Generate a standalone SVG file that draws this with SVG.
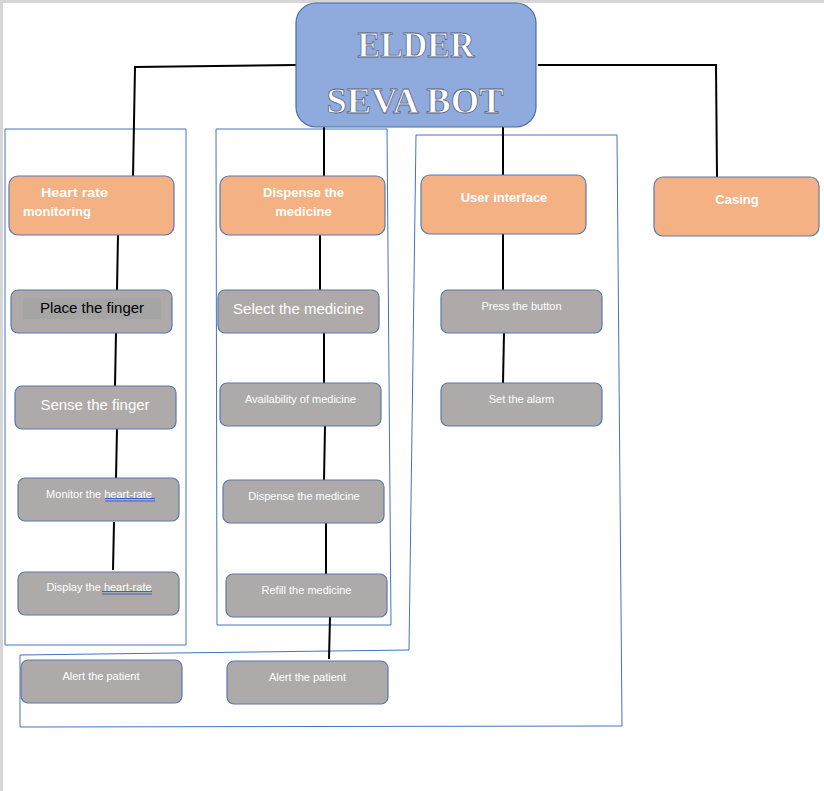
<svg xmlns="http://www.w3.org/2000/svg" width="824" height="791" viewBox="0 0 824 791">
<style>
.frame{fill:none;stroke:#4472c4;stroke-width:1}
.conn{fill:none;stroke:#000;stroke-width:2}
.main{fill:#8faadc;stroke:#4a6aa8;stroke-width:1.2}
.org{fill:#f4b183;stroke:#5b77ad;stroke-width:1.2}
.gry{fill:#aeaaaa;stroke:#5b77ad;stroke-width:1.2}
.ot{font-family:"Liberation Sans",Arial,sans-serif;font-weight:bold;font-size:13px;fill:#fff}
.gt{font-family:"Liberation Sans",Arial,sans-serif;font-size:11px;fill:#fff;text-anchor:middle}
.gl{font-family:"Liberation Sans",Arial,sans-serif;font-size:15px;fill:#fff;text-anchor:middle}
.tt{font-family:"Liberation Serif","Times New Roman",serif;font-weight:bold;font-size:36px;fill:#fff;stroke:#5a6480;stroke-width:0.8;text-anchor:middle}
.ul{stroke:#3b5fd0;stroke-width:1}
</style>
<rect width="824" height="791" fill="#fff"/>
<path d="M1.5,791 V1.5 H824" fill="none" stroke="#d6d6d6" stroke-width="3"/>

<g id="frames">
<path class="frame" d="M5,129 H186 V645 H5 Z"/>
<path class="frame" d="M216,129 H387 L391,625 H217 Z"/>
<path class="frame" d="M416,135 H617 L622,726 L20,727 V655 L409,650 Z"/>
</g>

<g id="connectors">
<polyline class="conn" points="296,65 135,67 133,177"/>
<polyline class="conn" points="538,65 716,65 717,177"/>
<line class="conn" x1="324" y1="127" x2="324" y2="176"/>
<line class="conn" x1="503" y1="127" x2="503" y2="175"/>
<line class="conn" x1="118" y1="235" x2="117" y2="290"/>
<line class="conn" x1="116" y1="333" x2="115" y2="386"/>
<line class="conn" x1="117" y1="429" x2="116" y2="478"/>
<line class="conn" x1="114" y1="522" x2="113" y2="570"/>
<line class="conn" x1="320" y1="235" x2="320" y2="290"/>
<line class="conn" x1="324" y1="333" x2="324" y2="383"/>
<line class="conn" x1="325" y1="426" x2="324" y2="480"/>
<line class="conn" x1="326" y1="523" x2="326" y2="574"/>
<line class="conn" x1="330" y1="617" x2="329" y2="659"/>
<line class="conn" x1="503" y1="234" x2="503" y2="290"/>
<line class="conn" x1="504" y1="333" x2="503" y2="383"/>
</g>

<g id="main">
<rect class="main" x="296" y="3" width="240" height="124" rx="20"/>
<text class="tt" x="416" y="57" textLength="117" lengthAdjust="spacingAndGlyphs">ELDER</text>
<text class="tt" x="415" y="113" textLength="177" lengthAdjust="spacingAndGlyphs">SEVA BOT</text>
</g>

<g id="heart-rate-monitoring">
<rect class="org" x="9" y="176" width="165" height="59" rx="9"/>
<text class="ot" x="41" y="197" textLength="67" lengthAdjust="spacingAndGlyphs">Heart rate</text>
<text class="ot" x="23" y="216">monitoring</text>
</g>
<g id="dispense-the-medicine">
<rect class="org" x="220" y="176" width="165" height="59" rx="9"/>
<text class="ot" x="303.5" y="197" text-anchor="middle">Dispense the</text>
<text class="ot" x="303.5" y="216" text-anchor="middle">medicine</text>
</g>
<g id="user-interface">
<rect class="org" x="421" y="175" width="165" height="59" rx="9"/>
<text class="ot" x="504" y="202" text-anchor="middle">User interface</text>
</g>
<g id="casing">
<rect class="org" x="654" y="177" width="165" height="59" rx="9"/>
<text class="ot" x="737" y="204" text-anchor="middle">Casing</text>
</g>

<g id="place-the-finger">
<rect class="gry" x="11" y="290" width="161" height="43" rx="7"/>
<rect x="23" y="298" width="138" height="21" fill="#a5a5a5"/>
<text class="gl" x="92" y="313" fill="#000" style="fill:#000">Place the finger</text>
</g>
<g id="sense-the-finger">
<rect class="gry" x="15" y="386" width="161" height="43" rx="7"/>
<text class="gl" x="95" y="410">Sense the finger</text>
</g>
<g id="monitor-the-heart-rate">
<rect class="gry" x="18" y="478" width="161" height="43" rx="7"/>
<text class="gt" x="99" y="498">Monitor the heart-rate</text>
<line class="ul" x1="105" y1="498.5" x2="155" y2="498.5"/>
<line class="ul" x1="105" y1="501" x2="155" y2="501"/>
</g>
<g id="display-the-heart-rate">
<rect class="gry" x="18" y="572" width="161" height="43" rx="7"/>
<text class="gt" x="99" y="591">Display the heart-rate</text>
<line class="ul" x1="102" y1="591.5" x2="152" y2="591.5"/>
<line class="ul" x1="102" y1="594" x2="152" y2="594"/>
</g>
<g id="alert-the-patient-1">
<rect class="gry" x="21" y="660" width="161" height="43" rx="7"/>
<text class="gt" x="101" y="680">Alert the patient</text>
</g>

<g id="select-the-medicine">
<rect class="gry" x="218" y="290" width="161" height="43" rx="7"/>
<text class="gl" x="298.5" y="314">Select the medicine</text>
</g>
<g id="availability-of-medicine">
<rect class="gry" x="220" y="383" width="161" height="43" rx="7"/>
<text class="gt" x="300.5" y="403">Availability of medicine</text>
</g>
<g id="dispense-medicine">
<rect class="gry" x="223" y="480" width="161" height="43" rx="7"/>
<text class="gt" x="304" y="500">Dispense the medicine</text>
</g>
<g id="refill-the-medicine">
<rect class="gry" x="226" y="574" width="161" height="43" rx="7"/>
<text class="gt" x="306.5" y="594">Refill the medicine</text>
</g>
<g id="alert-the-patient-2">
<rect class="gry" x="227" y="661" width="161" height="43" rx="7"/>
<text class="gt" x="307.5" y="681">Alert the patient</text>
</g>

<g id="press-the-button">
<rect class="gry" x="441" y="290" width="161" height="43" rx="7"/>
<text class="gt" x="521.5" y="310">Press the button</text>
</g>
<g id="set-the-alarm">
<rect class="gry" x="441" y="383" width="161" height="43" rx="7"/>
<text class="gt" x="521.5" y="403">Set the alarm</text>
</g>
</svg>
